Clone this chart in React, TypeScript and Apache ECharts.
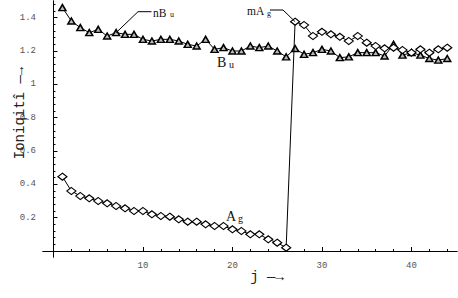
import React, { useEffect, useRef } from 'react';
import * as echarts from 'echarts';

const jValues = [1, 2, 3, 4, 5, 6, 7, 8, 9, 10, 11, 12, 13, 14, 15, 16, 17, 18, 19, 20, 21, 22, 23, 24, 25, 26, 27, 28, 29, 30, 31, 32, 33, 34, 35, 36, 37, 38, 39, 40, 41, 42, 43, 44];
const buValues = [1.46, 1.38, 1.34, 1.31, 1.33, 1.29, 1.31, 1.30, 1.30, 1.27, 1.26, 1.27, 1.27, 1.26, 1.24, 1.23, 1.27, 1.21, 1.22, 1.20, 1.20, 1.23, 1.22, 1.23, 1.20, 1.165, 1.215, 1.18, 1.19, 1.21, 1.20, 1.16, 1.165, 1.19, 1.19, 1.19, 1.17, 1.24, 1.175, 1.19, 1.175, 1.155, 1.145, 1.155];
const agValues = [0.446, 0.36, 0.33, 0.316, 0.30, 0.286, 0.27, 0.256, 0.24, 0.24, 0.22, 0.21, 0.206, 0.19, 0.176, 0.176, 0.16, 0.15, 0.15, 0.13, 0.12, 0.10, 0.10, 0.07, 0.05, 0.02, 1.376, 1.356, 1.29, 1.315, 1.30, 1.285, 1.26, 1.29, 1.25, 1.23, 1.216, 1.22, 1.206, 1.19, 1.21, 1.19, 1.21, 1.22];

const xMajorTicks = [10, 20, 30, 40];
const xMinorTicks = [2, 4, 6, 8, 12, 14, 16, 18, 22, 24, 26, 28, 32, 34, 36, 38, 42, 44];
const yMajorTicks = [0.2, 0.4, 0.6, 0.8, 1, 1.2, 1.4];
const yMinorTicks = [0.04, 0.08, 0.12, 0.16, 0.24, 0.28, 0.32, 0.36, 0.44, 0.48, 0.52, 0.56, 0.64, 0.68, 0.72, 0.76, 0.84, 0.88, 0.92, 0.96, 1.04, 1.08, 1.12, 1.16, 1.24, 1.28, 1.32, 1.36, 1.44, 1.48];

const X_MIN = -1.17;
const X_MAX = 45.09;
const Y_MIN = -0.036;
const Y_MAX = 1.5;

const MONO = '"Liberation Mono", "DejaVu Sans Mono", monospace';
const SERIF = '"Liberation Serif", "DejaVu Serif", serif';

export default function App() {
  const ref = useRef<HTMLDivElement>(null);

  useEffect(() => {
    if (!ref.current) return;
    const chart = echarts.init(ref.current, undefined, { renderer: 'svg' });

    const axisLine = { show: true, onZero: true, onZeroAxisIndex: 0, lineStyle: { color: '#000', width: 1 } };

    const xAxisBase = {
      type: 'value' as const,
      min: X_MIN,
      max: X_MAX,
      position: 'bottom' as const,
      splitLine: { show: false },
      axisLine,
    };
    const yAxisBase = {
      type: 'value' as const,
      min: Y_MIN,
      max: Y_MAX,
      position: 'left' as const,
      splitLine: { show: false },
      axisLine,
    };

    const buData = jValues.map((j, i) => [j, buValues[i]]);
    const agData = jValues.map((j, i) => [j, agValues[i]]);

    chart.setOption({
      animation: false,
      grid: { left: 43, right: 1, top: 1, bottom: 41, containLabel: false },
      xAxis: [
        {
          ...xAxisBase,
          axisTick: { show: true, inside: true, length: 4, customValues: xMajorTicks, lineStyle: { color: '#000' } },
          axisLabel: {
            show: true,
            customValues: xMajorTicks,
            margin: 4,
            color: '#555',
            fontFamily: MONO,
            fontSize: 9,
            formatter: (v: number) => String(v),
          },
        },
        {
          ...xAxisBase,
          axisTick: { show: true, inside: true, length: 2, customValues: xMinorTicks, lineStyle: { color: '#000' } },
          axisLabel: { show: false },
        },
      ],
      yAxis: [
        {
          ...yAxisBase,
          axisTick: { show: true, inside: true, length: 4, customValues: yMajorTicks, lineStyle: { color: '#000' } },
          axisLabel: {
            show: true,
            customValues: yMajorTicks,
            margin: 7,
            color: '#555',
            fontFamily: MONO,
            fontSize: 9,
            formatter: (v: number) => String(v),
          },
        },
        {
          ...yAxisBase,
          axisTick: { show: true, inside: true, length: 2, customValues: yMinorTicks, lineStyle: { color: '#000' } },
          axisLabel: { show: false },
        },
      ],
      series: [
        {
          name: 'Bu',
          type: 'line',
          xAxisIndex: 0,
          yAxisIndex: 0,
          data: buData,
          symbol: 'triangle',
          symbolSize: [7, 6],
          showAllSymbol: true,
          lineStyle: { color: '#000', width: 1 },
          itemStyle: { color: '#bbb', borderColor: '#000', borderWidth: 1.5 },
          z: 3,
        },
        {
          name: 'Ag',
          type: 'line',
          xAxisIndex: 0,
          yAxisIndex: 0,
          data: agData,
          symbol: 'diamond',
          symbolSize: [9, 7],
          showAllSymbol: true,
          lineStyle: { color: '#000', width: 1 },
          itemStyle: { color: '#fff', borderColor: '#000', borderWidth: 1.2 },
          z: 4,
        },
      ],
    });

    const pB = chart.convertToPixel({ xAxisIndex: 0, yAxisIndex: 0 }, [jValues[6], buValues[6]]) as number[];
    const pA = chart.convertToPixel({ xAxisIndex: 0, yAxisIndex: 0 }, [jValues[26], agValues[26]]) as number[];

    const txt = (text: string, x: number, y: number, size: number, family: string, extra: any = {}) => ({
      type: 'text',
      x,
      y,
      z: 10,
      style: {
        text,
        fontSize: size,
        fontFamily: family,
        fill: '#111',
        align: 'left',
        verticalAlign: 'middle',
        ...extra,
      },
    });

    chart.setOption({
      graphic: [
        {
          type: 'polyline',
          z: 10,
          shape: { points: [[pB[0], pB[1]], [138, 11.7], [151.5, 11.7]] },
          style: { stroke: '#000', lineWidth: 1, fill: 'none' },
        },
        {
          type: 'polyline',
          z: 10,
          shape: { points: [[270, 10], [283, 10], [pA[0], pA[1]]] },
          style: { stroke: '#000', lineWidth: 1, fill: 'none' },
        },
        txt('nB', 153, 13.1, 11.5, SERIF),
        txt('u', 170, 14.3, 8, SERIF),
        txt('mA', 247, 11.1, 11.5, SERIF),
        txt('g', 267, 13.8, 8, SERIF),
        txt('B', 217, 62.2, 14, SERIF),
        txt('u', 229, 64.6, 10, SERIF),
        txt('A', 226, 216.2, 14, SERIF),
        txt('g', 238, 218.6, 10, SERIF),
        {
          type: 'text',
          x: 20,
          y: 113,
          rotation: Math.PI / 2,
          z: 10,
          style: {
            text: 'Ioniqitî —→',
            fontSize: 14,
            fontFamily: MONO,
            fill: '#222',
            align: 'center',
            verticalAlign: 'middle',
          },
        },
        {
          type: 'text',
          x: 267,
          y: 277,
          z: 10,
          style: {
            text: 'j —→',
            fontSize: 14,
            fontFamily: MONO,
            fill: '#222',
            align: 'center',
            verticalAlign: 'middle',
          },
        },
      ],
    });

    return () => chart.dispose();
  }, []);

  return (
    <div
      ref={ref}
      style={{ position: 'fixed', left: 0, top: 0, width: 458, height: 298, background: '#fff' }}
    />
  );
}
